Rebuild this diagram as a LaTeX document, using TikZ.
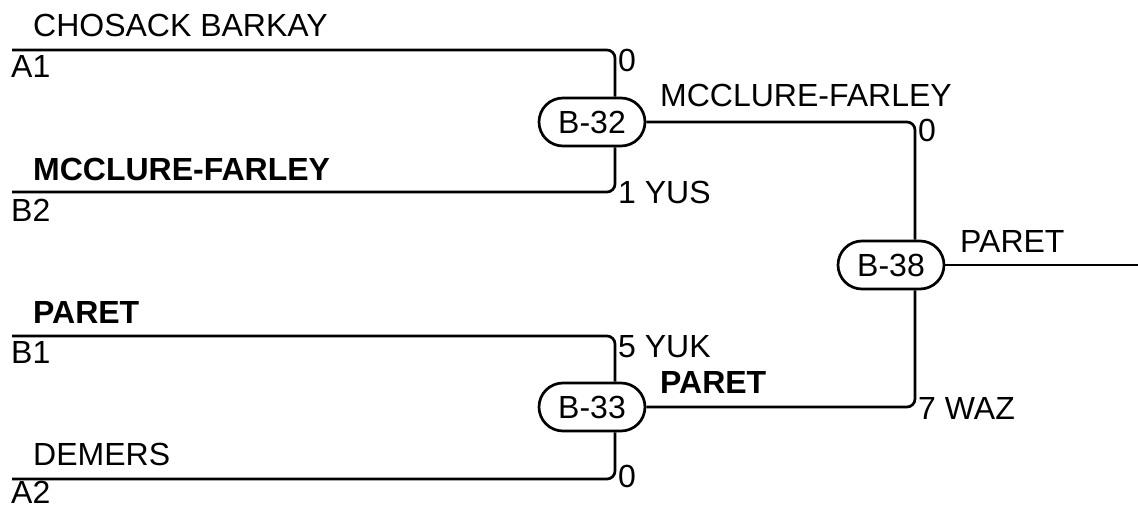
\documentclass[tikz,border=0pt]{standalone}
\usepackage{fontspec}
\setmainfont{Liberation Sans}
\usetikzlibrary{shapes.misc}
\begin{document}
\begin{tikzpicture}[x=1pt,y=-1pt,
  wire/.style={line width=2.7pt,rounded corners=8pt},
  game/.style={rounded rectangle,draw,line width=2.7pt,minimum width=106pt,minimum height=48pt,inner sep=0pt,font=\fontsize{32}{38}\selectfont},
  lbl/.style={anchor=base west,inner sep=0pt,font=\fontsize{32}{38}\selectfont},
  blbl/.style={lbl,font=\fontsize{32}{38}\selectfont\bfseries}]
\useasboundingbox (0,0) rectangle (1138,508);
% game nodes
\node[game] (b32) at (592,122) {B-32};
\node[game] (b33) at (592,407) {B-33};
\node[game] (b38) at (891,265) {B-38};
% entry points
\coordinate (a1) at (12,50);
\coordinate (b2) at (12,192);
\coordinate (b1) at (12,336);
\coordinate (a2) at (12,479);
\coordinate (out) at (1138,265);
% connectors
\draw[wire] (a1) -| (b32.north -| 615,0);
\draw[wire] (b2) -| (b32.south -| 615,0);
\draw[wire] (b1) -| (b33.north -| 615,0);
\draw[wire] (a2) -| (b33.south -| 615,0);
\draw[wire] (b32.east) -| (b38.north -| 915,0);
\draw[wire] (b33.east) -| (b38.south -| 915,0);
\draw[wire] (b38.east) -- (out);
% labels
\node[lbl] (t1) at (33,37) {CHOSACK BARKAY};
\node[lbl] (l1) at (11,78) {A1};
\node[blbl] (t2) at (33,180) {MCCLURE-FARLEY};
\node[lbl] (l2) at (11,221) {B2};
\node[blbl] (t3) at (33,323) {PARET};
\node[lbl] (l3) at (11,363) {B1};
\node[lbl] (t4) at (33,465) {DEMERS};
\node[lbl] (l4) at (11,503) {A2};
\node[lbl] (s1) at (618,72) {0};
\node[lbl] (s2) at (618,203) {1 YUS};
\node[lbl] (s3) at (618,357) {5 YUK};
\node[lbl] (s4) at (618,487) {0};
\node[lbl] (w1) at (660,107) {MCCLURE-FARLEY};
\node[blbl] (w2) at (660,393) {PARET};
\node[lbl] (s5) at (918,142) {0};
\node[lbl] (s6) at (918,419) {7 WAZ};
\node[lbl] (w3) at (960,252) {PARET};
\end{tikzpicture}
\end{document}
